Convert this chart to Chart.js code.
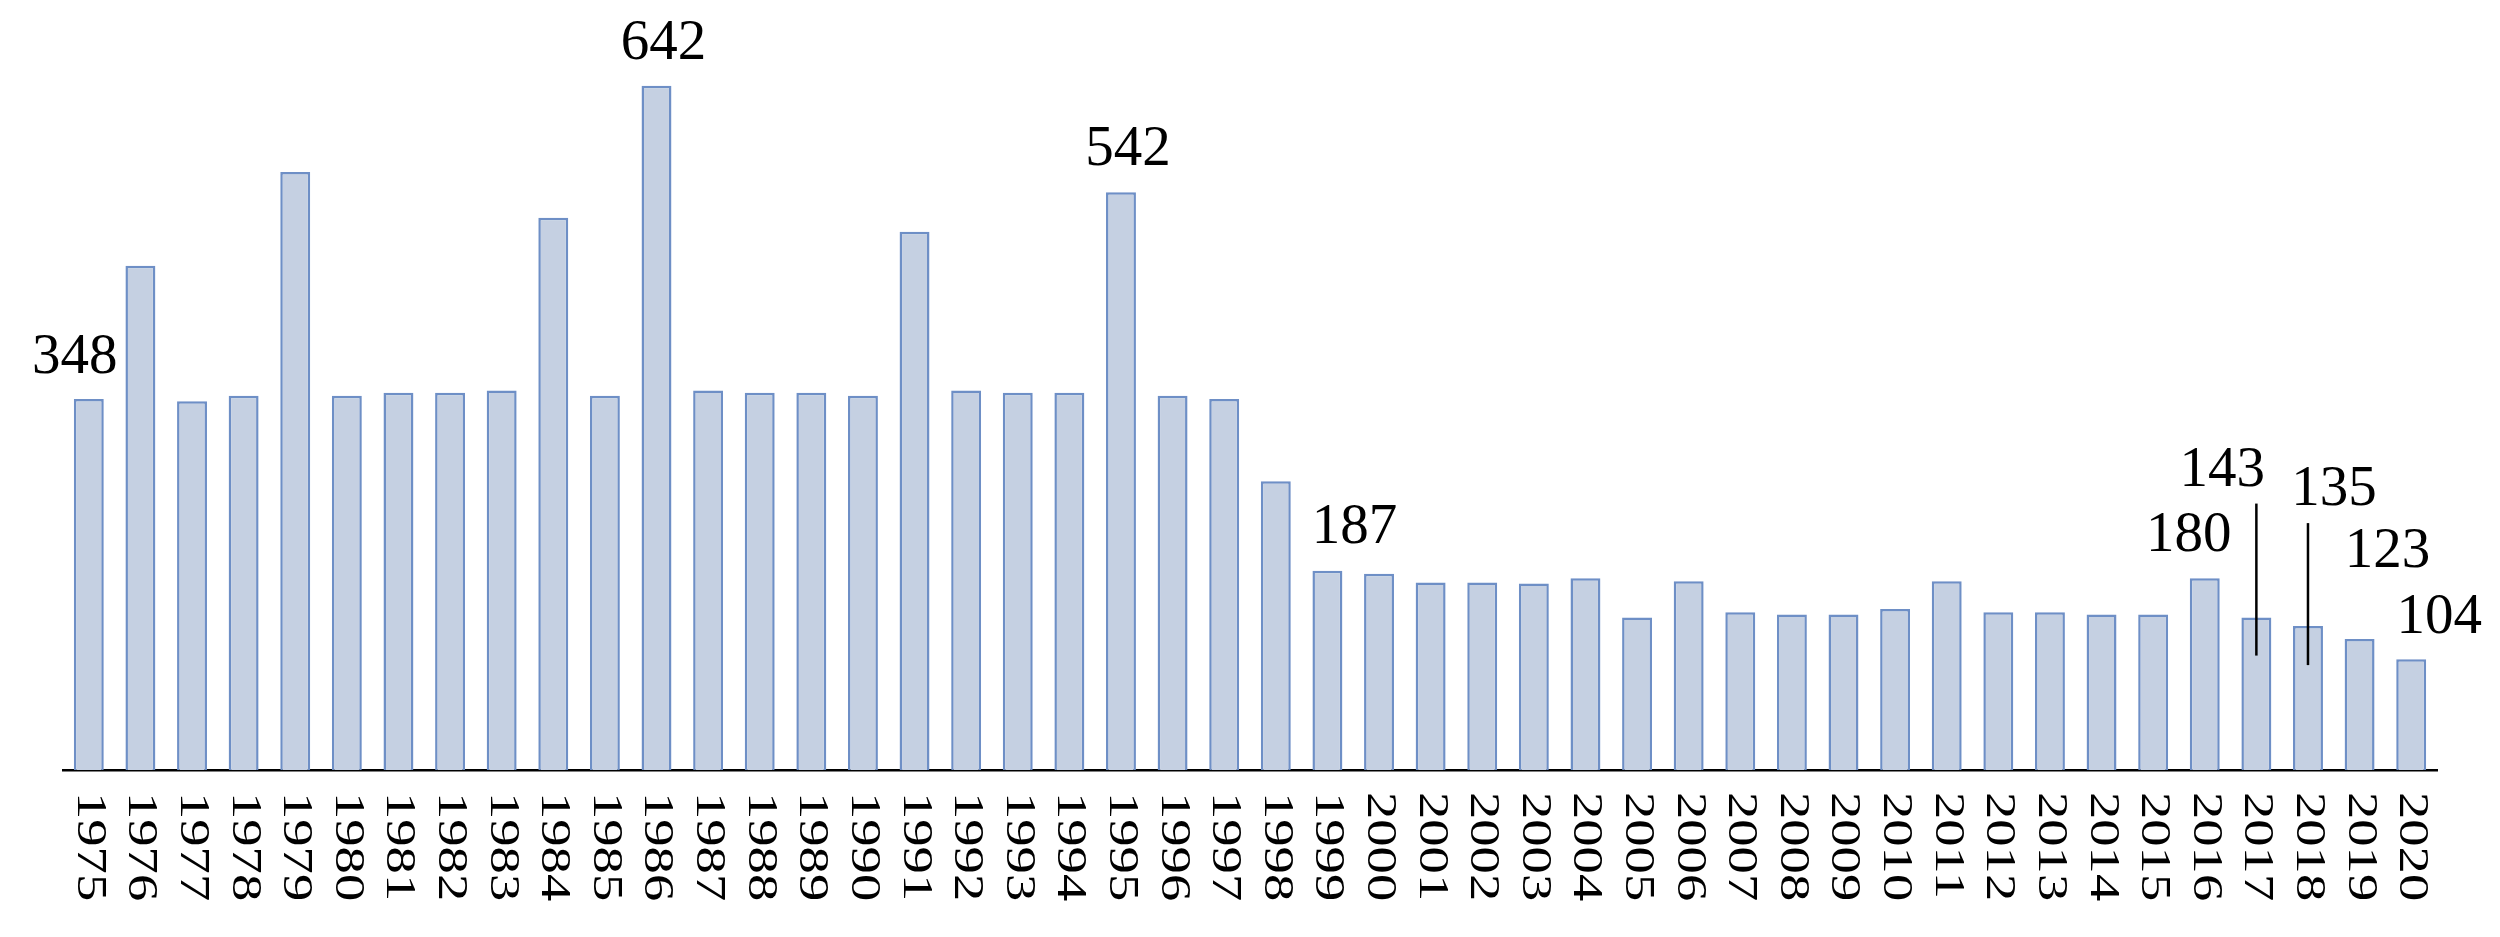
<!DOCTYPE html>
<html><head><meta charset="utf-8">
<script src="https://cdn.jsdelivr.net/npm/chart.js@4.4.1/dist/chart.umd.min.js"></script>
<style>html,body{margin:0;padding:0;background:#fff}#wrap{width:2500px;height:937px;position:relative}</style>
</head><body><div id="wrap"><canvas id="c"></canvas></div>
<script>
const years = ['1975','1976','1977','1978','1979','1980','1981','1982','1983','1984','1985','1986','1987','1988','1989','1990','1991','1992','1993','1994','1995','1996','1997','1998','1999','2000','2001','2002','2003','2004','2005','2006','2007','2008','2009','2010','2011','2012','2013','2014','2015','2016','2017','2018','2019','2020'];
const counts = [348,473,346,351,561,351,354,354,356,518,351,642,356,354,354,351,505,356,354,354,542,351,348,271,187,184,176,176,175,180,143,177,148,146,146,151,177,148,148,146,146,180,143,135,123,104];
const labeledYears = ['1975','1986','1995','1999','2016','2017','2018','2019','2020'];

// placement of value labels relative to bar top (pixels), kept separate from data
const labelPlacement = {
  '1975': {dx:-14, dy:-41},
  '1986': {dx:7, dy:-42},
  '1995': {dx:7, dy:-42},
  '1999': {dx:27, dy:-43},
  '2016': {dx:-16, dy:-42},
  '2017': {dx:-34, dy:-147, leader:[-114, 38]},
  '2018': {dx:26, dy:-136, leader:[-103, 39]},
  '2019': {dx:28, dy:-87},
  '2020': {dx:28, dy:-41}
};

const valueLabels = {
  id: 'valueLabels',
  afterDatasetsDraw(chart) {
    const ctx = chart.ctx;
    const xs = chart.scales.x, ys = chart.scales.y;
    ctx.save();
    ctx.fillStyle = '#000';
    ctx.strokeStyle = '#000';
    ctx.font = '57px "Liberation Serif", serif';
    ctx.textAlign = 'center';
    ctx.textBaseline = 'middle';
    labeledYears.forEach(y => {
      const i = years.indexOf(y);
      const v = counts[i];
      const x = xs.getPixelForValue(i);
      const top = ys.getPixelForValue(v);
      const p = labelPlacement[y];
      ctx.fillText(String(v), x + p.dx, top + p.dy);
      if (p.leader) {
        ctx.lineWidth = 2.5;
        ctx.beginPath();
        ctx.moveTo(x, top + p.leader[0]);
        ctx.lineTo(x, top + p.leader[1]);
        ctx.stroke();
      }
    });
    ctx.restore();
  }
};

const xTickLabels = {
  id: 'xTickLabels',
  afterDraw(chart) {
    const ctx = chart.ctx;
    const xs = chart.scales.x;
    const base = chart.chartArea.bottom + 22;
    ctx.save();
    ctx.fillStyle = '#000';
    ctx.font = '42px "Liberation Serif", serif';
    ctx.textAlign = 'left';
    ctx.textBaseline = 'middle';
    years.forEach((lab, i) => {
      const x = xs.getPixelForValue(i);
      ctx.save();
      ctx.translate(x, base);
      ctx.rotate(Math.PI / 2);
      ctx.scale(1.3, 1);
      ctx.fillText(lab, 0, 0);
      ctx.restore();
    });
    ctx.restore();
  }
};

new Chart(document.getElementById('c'), {
  type: 'bar',
  data: {
    labels: years,
    datasets: [{
      data: counts,
      backgroundColor: '#c5d0e2',
      borderColor: '#6e8fc6',
      borderWidth: 2.5,
      barPercentage: 0.58,
      categoryPercentage: 1.0
    }]
  },
  options: {
    responsive: true,
    maintainAspectRatio: false,
    animation: false,
    layout: { padding: { left: 63, right: 63, top: 10, bottom: 167 } },
    plugins: { legend: { display: false }, tooltip: { enabled: false } },
    scales: {
      x: {
        grid: { display: false, drawTicks: false },
        border: { display: true, color: '#000', width: 2.5 },
        ticks: { display: false },
        afterFit(s) { s.height = 0; }
      },
      y: {
        display: false,
        min: 0,
        max: 713
      }
    }
  },
  plugins: [valueLabels, xTickLabels]
});
</script>
</body></html>
